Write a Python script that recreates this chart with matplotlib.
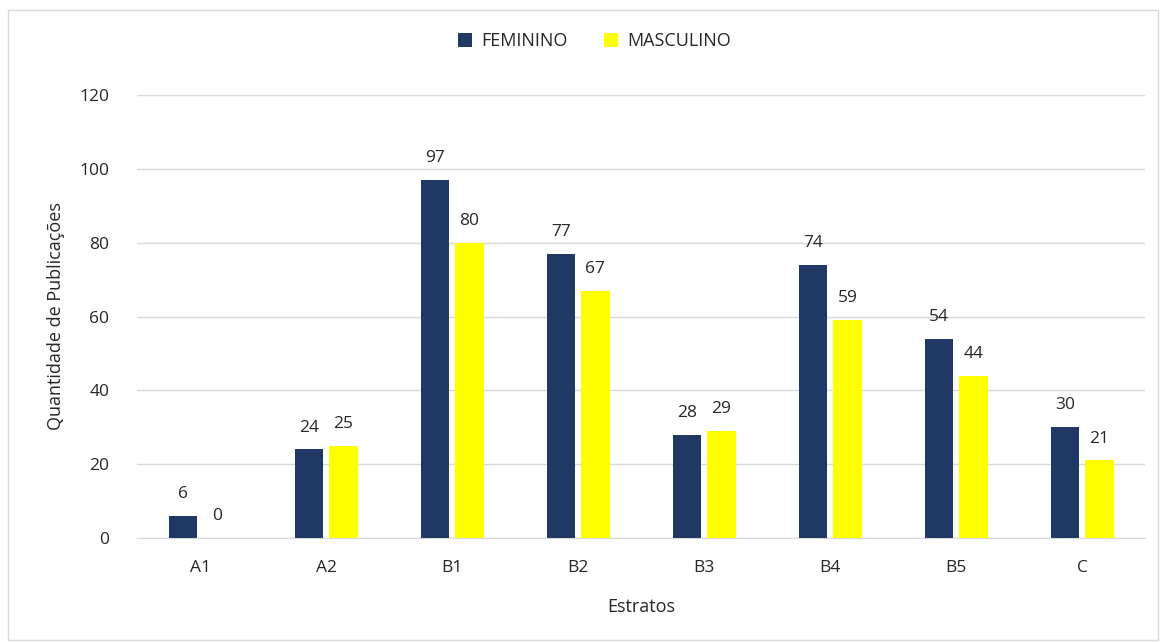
import numpy as np
import matplotlib.pyplot as plt
from matplotlib.patches import Rectangle

# dados do grafico
estratos = ['A1', 'A2', 'B1', 'B2', 'B3', 'B4', 'B5', 'C']
feminino = [6, 24, 97, 77, 28, 74, 54, 30]
masculino = [0, 25, 80, 67, 29, 59, 44, 21]

plt.rcParams['font.family'] = ['Open Sans', 'DejaVu Sans']
txt = '#262626'

fig = plt.figure(figsize=(11.65, 6.42), dpi=100)
ax = fig.add_axes([0.1176, 0.162, 0.8654, 0.690])

# moldura externa
fig.patches.append(Rectangle((8 / 1165, 2 / 642), 1150 / 1165, 630 / 642, transform=fig.transFigure,
                             fill=False, edgecolor='#d9d9d9', linewidth=1))

x = np.arange(len(estratos))
w = 0.225
gap = 0.05
b1 = ax.bar(x - (w + gap) / 2, feminino, w, color='#203864', label='FEMININO', zorder=3)
b2 = ax.bar(x + (w + gap) / 2, masculino, w, color='#FFFF00', label='MASCULINO', zorder=3)

for bars in (b1, b2):
    for r in bars:
        ax.annotate(str(int(r.get_height())), (r.get_x() + r.get_width() / 2, r.get_height()),
                    xytext=(0, 10), textcoords='offset points', ha='center', va='bottom',
                    fontsize=12.5, color=txt)

ax.set_xlim(-0.5, len(estratos) - 0.5)
ax.set_ylim(0, 120)
ax.set_yticks(range(0, 121, 20))
ax.set_xticks(x)
ax.set_xticklabels(estratos)
ax.grid(axis='y', color='#d9d9d9', linewidth=1, zorder=0)
for s in ['top', 'right', 'left']:
    ax.spines[s].set_visible(False)
ax.spines['bottom'].set_color('#d9d9d9')
ax.tick_params(length=0, labelsize=12.5, colors=txt)
ax.tick_params(axis='x', pad=16)
ax.tick_params(axis='y', pad=20)

ax.set_xlabel('Estratos', fontsize=13, color=txt, labelpad=16)
ax.set_ylabel('Quantidade de Publicações', fontsize=13, color=txt, labelpad=10)

fig.legend(loc='upper center', bbox_to_anchor=(0.51, 0.975), ncol=2, frameon=False,
           fontsize=13, handlelength=0.8, handleheight=0.8, columnspacing=2.0, handletextpad=0.5,
           labelcolor=txt)

fig.savefig('out.png', dpi=100)
